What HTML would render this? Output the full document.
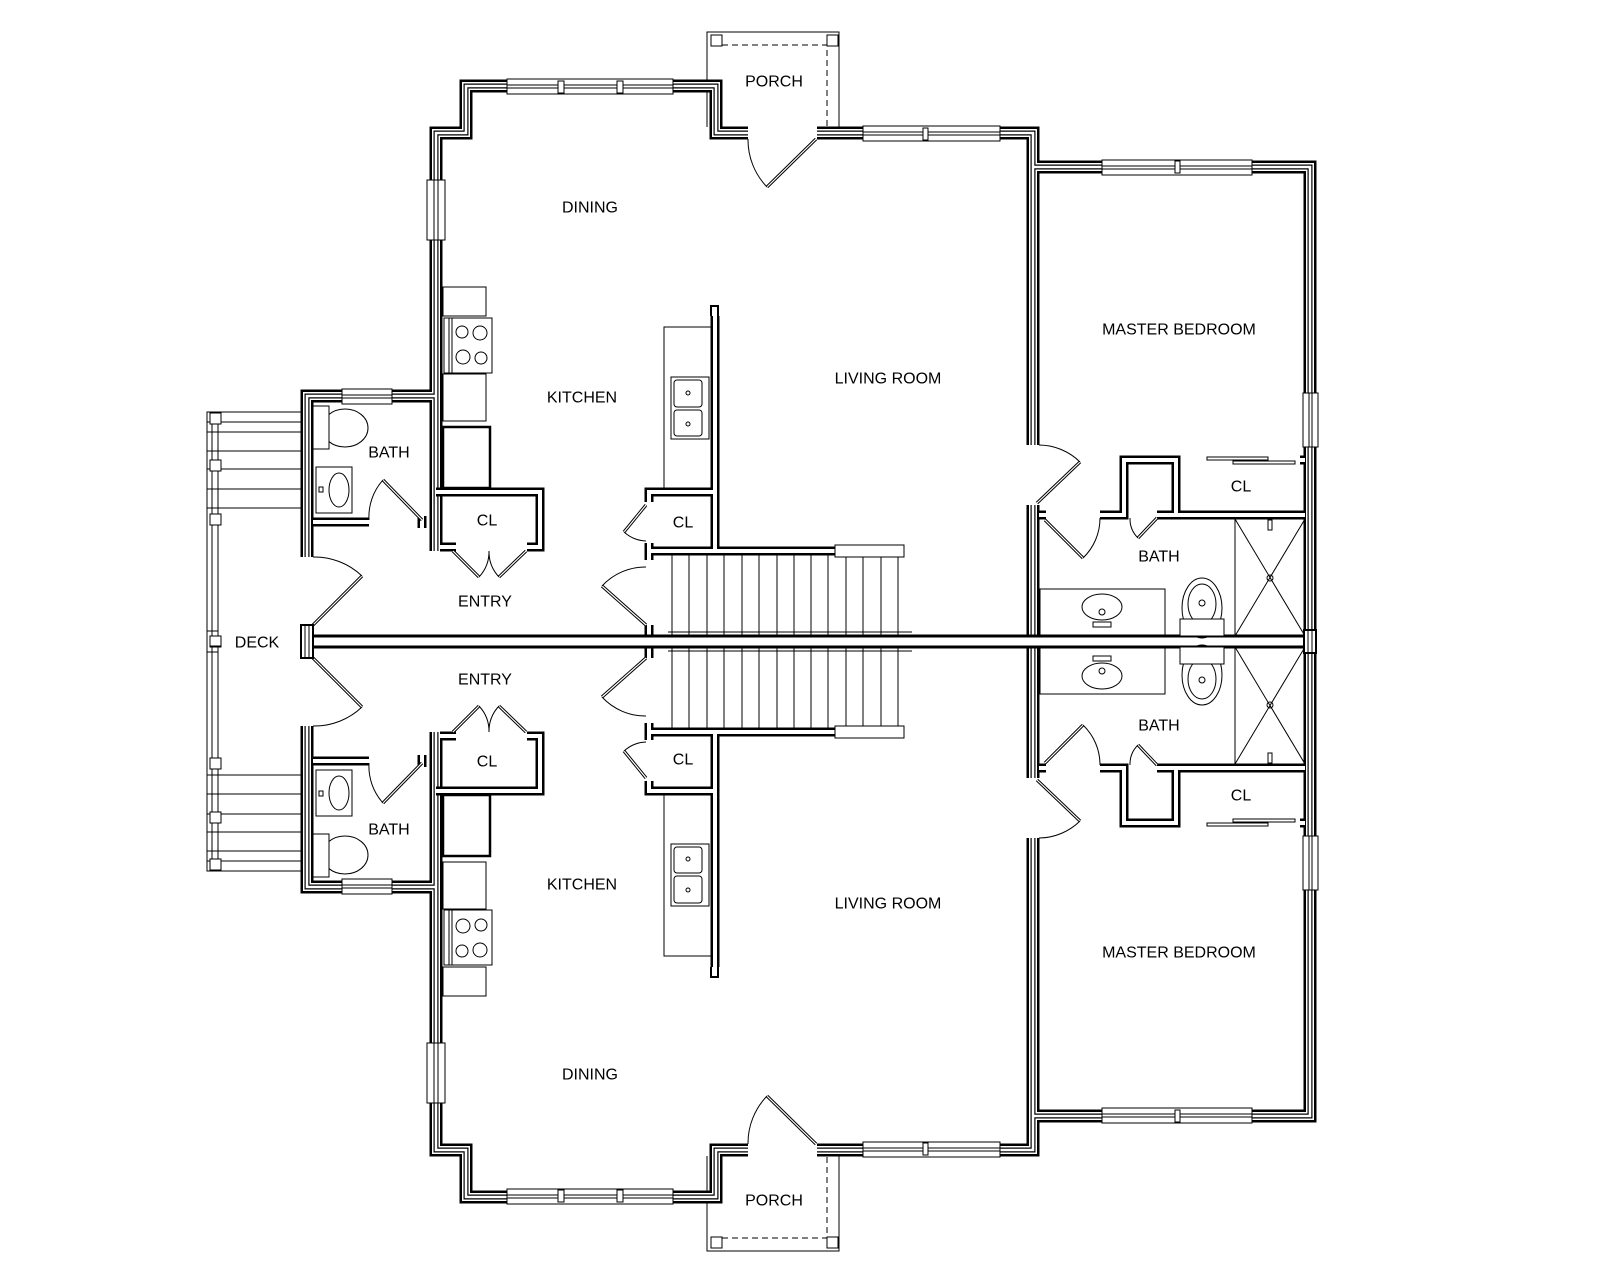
<!DOCTYPE html>
<html><head><meta charset="utf-8"><style>
html,body{margin:0;padding:0;background:#fff}
svg{display:block}
text{font-family:"Liberation Sans",sans-serif;font-size:16px;fill:#000;text-anchor:middle;dominant-baseline:central}
.w1{stroke:#000;stroke-width:13;fill:none;stroke-linejoin:miter}
.w2{stroke:#fff;stroke-width:8;fill:none;stroke-linejoin:miter}
.w3{stroke:#000;stroke-width:5;fill:none;stroke-linejoin:miter}
.w4{stroke:#fff;stroke-width:2.6;fill:none;stroke-linejoin:miter}
.i1{stroke:#000;stroke-width:9;fill:none;stroke-linejoin:miter}
.i2{stroke:#fff;stroke-width:4;fill:none;stroke-linejoin:miter}
.t{stroke:#000;stroke-width:1;fill:none}
.tw{stroke:#000;stroke-width:1;fill:#fff}
.lf1{stroke:#000;stroke-width:3.2;fill:none}
.lf2{stroke:#fff;stroke-width:1.2;fill:none}
</style></head><body>
<svg width="1600" height="1280" viewBox="0 0 1600 1280" xmlns="http://www.w3.org/2000/svg">
<defs>
<g id="ext">
<path d="M436,551 L436,133 L466,133 L466,86 L716,86 L716,133 L748,133"/>
<path d="M817,133 L1033,133 L1033,445"/>
<path d="M1033,505 L1033,636"/>
<path d="M1033,167 L1310,167 L1310,636"/>
<path d="M436,396 L307,396 L307,557"/>
<path d="M307,625 L307,636"/>
</g>
<g id="int">
<path d="M436,492 L540,492 L540,547 L527,547"/>
<path d="M440,547 L456,547"/>
<path d="M649,502 L649,492 L715,492"/>
<path d="M715,316 L715,551 L835,551"/>
<path d="M649,543 L649,560"/>
<path d="M649,551 L715,551"/>
<path d="M649,625 L649,636"/>
<path d="M313,522 L369,522"/>
<path d="M422,516 L422,528"/>
<path d="M1100,515 L1124,515 L1124,460 L1176,460 L1176,515"/>
<path d="M1157,515 L1305,515"/>
<path d="M1039,515 L1046,515"/>
<path d="M1300,460 L1305,460"/>
</g>
<g id="leaves">
<path d="M816,139 L767,187"/>
<path d="M1037,503 L1080,462"/>
<path d="M1045,520 L1083,558"/>
<path d="M1157,518 L1138,538"/>
<path d="M422,520 L383,480"/>
<path d="M313,625 L362,576"/>
<path d="M453,551 L479,577"/>
<path d="M526,551 L499,577"/>
<path d="M646,505 L624,532"/>
<path d="M646,625 L602,586"/>
</g>
<g id="top">
<rect x="207" y="412" width="11" height="240" class="t"/>
<line x1="212" y1="412" x2="212" y2="652" class="t"/>
<g class="t">
<line x1="207" y1="412" x2="302" y2="412"/>
<line x1="207" y1="422" x2="302" y2="422"/>
<line x1="207" y1="432" x2="302" y2="432"/>
<line x1="207" y1="451" x2="302" y2="451"/>
<line x1="207" y1="469" x2="302" y2="469"/>
<line x1="207" y1="489" x2="302" y2="489"/>
<line x1="207" y1="508" x2="302" y2="508"/>
</g>
<rect x="210" y="413" width="11" height="11" class="tw" stroke-width="1.5"/>
<rect x="210" y="460" width="11" height="11" class="tw" stroke-width="1.5"/>
<rect x="210" y="514" width="11" height="11" class="tw" stroke-width="1.5"/>
<rect x="210" y="637" width="11" height="10" class="tw" stroke-width="1.5"/>
<path d="M707,127 L707,32 L839,32 L839,127" class="t"/>
<path d="M722,45 L827,45 L827,127" class="t" stroke-dasharray="6,4"/>
<rect x="711" y="35" width="11" height="11" class="tw" stroke-width="2.5"/>
<rect x="827" y="35" width="11" height="11" class="tw" stroke-width="2.5"/>
<use href="#ext" class="w1"/><use href="#ext" class="w2"/><use href="#ext" class="w3"/><use href="#ext" class="w4"/>
<use href="#int" class="i1"/><use href="#int" class="i2"/>
<line x1="302" y1="636" x2="1316" y2="636" stroke="#000" stroke-width="3"/>
<g class="tw">
<rect x="427" y="180" width="18" height="60"/>
<rect x="507" y="79" width="166" height="15"/>
<rect x="863" y="126" width="137" height="15"/>
<rect x="1102" y="160" width="150" height="15"/>
<rect x="1303" y="393" width="15" height="54"/>
<rect x="342" y="389" width="50" height="15"/>
</g>
<g class="t">
<line x1="434" y1="180" x2="434" y2="240"/><line x1="438" y1="180" x2="438" y2="240"/>
<line x1="507" y1="85" x2="673" y2="85"/><line x1="507" y1="88" x2="673" y2="88"/>
<line x1="863" y1="132" x2="1000" y2="132"/><line x1="863" y1="135" x2="1000" y2="135"/>
<line x1="1102" y1="166" x2="1252" y2="166"/><line x1="1102" y1="169" x2="1252" y2="169"/>
<line x1="1309" y1="393" x2="1309" y2="447"/><line x1="1312" y1="393" x2="1312" y2="447"/>
<line x1="342" y1="395" x2="392" y2="395"/><line x1="342" y1="398" x2="392" y2="398"/>
</g>
<g class="tw" stroke-width="1.5">
<rect x="558" y="81" width="6" height="12"/><rect x="617" y="81" width="6" height="12"/>
<rect x="923" y="128" width="5" height="12"/><rect x="1175" y="161" width="5" height="12"/>
</g>
<use href="#leaves" class="lf1"/><use href="#leaves" class="lf2"/>
<g class="t">
<path d="M748,139 A68,68 0 0,0 767,187"/>
<path d="M1080,462 A59,59 0 0,0 1039,445"/>
<path d="M1083,558 A55,55 0 0,0 1100,518"/>
<path d="M1138,538 A27,27 0 0,1 1130,518"/>
<path d="M383,480 A55,55 0 0,0 369,520"/>
<path d="M362,576 A69,69 0 0,0 313,557"/>
<path d="M479,577 A37,37 0 0,0 489,551"/>
<path d="M499,577 A37,37 0 0,1 489,551"/>
<path d="M624,532 A35,35 0 0,0 646,541"/>
<path d="M602,586 A59,59 0 0,1 646,567"/>
</g>
<g class="t">
<rect x="443" y="287" width="43" height="29"/>
<rect x="444" y="318" width="48" height="55"/>
<line x1="449" y1="318" x2="449" y2="373"/><line x1="452" y1="318" x2="452" y2="373"/>
<circle cx="462" cy="332" r="6"/><circle cx="480" cy="333" r="7"/>
<circle cx="463" cy="357" r="7"/><circle cx="481" cy="358" r="6"/>
<rect x="443" y="374" width="43" height="47"/>
<rect x="664" y="327" width="47" height="161"/>
<rect x="671" y="377" width="38" height="62"/>
<rect x="674" y="380" width="28" height="27" rx="3"/>
<rect x="674" y="410" width="28" height="26" rx="3"/>
<circle cx="688" cy="393" r="2"/><circle cx="688" cy="424" r="2"/>
</g>
<rect x="443" y="427" width="47" height="61" fill="none" stroke="#000" stroke-width="2.5"/>
<line x1="490" y1="430" x2="490" y2="486" class="t"/>
<path d="M711,316 L711,306 L718,306 L718,316" fill="none" stroke="#000" stroke-width="2"/>
<g class="t">
<line x1="672" y1="555" x2="672" y2="636"/><line x1="689" y1="555" x2="689" y2="636"/>
<line x1="707" y1="555" x2="707" y2="636"/><line x1="724" y1="555" x2="724" y2="636"/>
<line x1="742" y1="555" x2="742" y2="636"/><line x1="759" y1="555" x2="759" y2="636"/>
<line x1="777" y1="555" x2="777" y2="636"/><line x1="794" y1="555" x2="794" y2="636"/>
<line x1="811" y1="555" x2="811" y2="636"/><line x1="828" y1="555" x2="828" y2="636"/>
<line x1="846" y1="557" x2="846" y2="636"/><line x1="863" y1="557" x2="863" y2="636"/>
<line x1="881" y1="557" x2="881" y2="636"/><line x1="898" y1="557" x2="898" y2="636"/>
<line x1="668" y1="632" x2="912" y2="632"/>
</g>
<rect x="835" y="545" width="69" height="12" class="tw" stroke-width="1.5"/>
<g class="t">
<ellipse cx="345" cy="428" rx="23" ry="19"/>
<rect x="313" y="406" width="16" height="43" fill="#fff"/>
<rect x="316" y="467" width="36" height="46"/>
<ellipse cx="339" cy="490" rx="10" ry="17"/>
<rect x="319" y="487" width="4" height="5"/>
</g>
<g class="t">
<rect x="1040" y="589" width="125" height="47"/>
<ellipse cx="1102" cy="607" rx="20" ry="13"/>
<circle cx="1102" cy="612" r="3"/>
<rect x="1093" y="622" width="18" height="5"/>
<ellipse cx="1202" cy="608" rx="20" ry="30"/>
<ellipse cx="1202" cy="604" rx="14" ry="20"/>
<rect x="1180" y="619" width="44" height="17" fill="#fff"/>
<circle cx="1202" cy="603" r="3"/>
<rect x="1235" y="519" width="70" height="117"/>
<line x1="1235" y1="519" x2="1305" y2="636"/><line x1="1305" y1="519" x2="1235" y2="636"/>
<circle cx="1270" cy="578" r="3"/>
<rect x="1268" y="520" width="4" height="10"/>
<rect x="1207" y="457" width="61" height="3"/>
<rect x="1233" y="461" width="62" height="3"/>
</g>
</g>
</defs>
<use href="#top"/>
<use href="#top" transform="matrix(1 0 0 -1 0 1283)"/>
<rect x="301" y="625" width="12" height="33" fill="#fff" stroke="#000" stroke-width="2"/>
<line x1="305" y1="625" x2="305" y2="658" class="t"/><line x1="309" y1="625" x2="309" y2="658" class="t"/>
<rect x="1304" y="630" width="12" height="23" fill="#fff" stroke="#000" stroke-width="2"/>
<line x1="1308" y1="630" x2="1308" y2="653" class="t"/><line x1="1312" y1="630" x2="1312" y2="653" class="t"/>
<text x="774" y="82">PORCH</text>
<text x="590" y="208">DINING</text>
<text x="582" y="398">KITCHEN</text>
<text x="888" y="379">LIVING ROOM</text>
<text x="1179" y="330">MASTER BEDROOM</text>
<text x="389" y="453">BATH</text>
<text x="487" y="521">CL</text>
<text x="683" y="523">CL</text>
<text x="485" y="602">ENTRY</text>
<text x="1159" y="557">BATH</text>
<text x="1241" y="487">CL</text>
<text x="257" y="643">DECK</text>
<text x="774" y="1201">PORCH</text>
<text x="590" y="1075">DINING</text>
<text x="582" y="885">KITCHEN</text>
<text x="888" y="904">LIVING ROOM</text>
<text x="1179" y="953">MASTER BEDROOM</text>
<text x="389" y="830">BATH</text>
<text x="487" y="762">CL</text>
<text x="683" y="760">CL</text>
<text x="485" y="680">ENTRY</text>
<text x="1159" y="726">BATH</text>
<text x="1241" y="796">CL</text>
</svg>
</body></html>
